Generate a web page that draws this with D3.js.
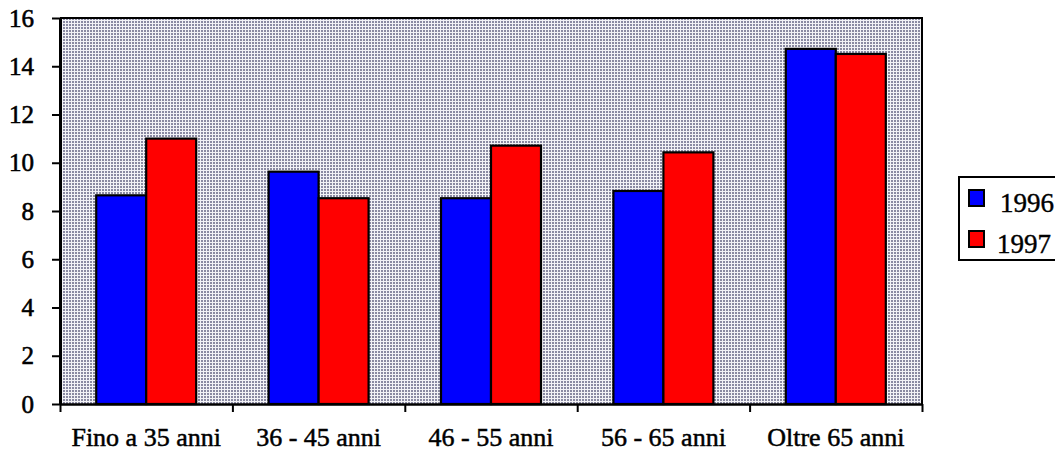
<!DOCTYPE html>
<html><head><meta charset="utf-8">
<script src="https://cdn.jsdelivr.net/npm/d3@7"></script>
<style>body{margin:0;background:#fff}svg{display:block}</style>
</head><body>
<svg id="c" width="1055" height="452"></svg>
<script>
const categories = ["Fino a 35 anni","36 - 45 anni","46 - 55 anni","56 - 65 anni","Oltre 65 anni"];
const series = ["1996","1997"];
const values1996 = [8.65, 9.63, 8.53, 8.83, 14.72];
const values1997 = [11.0, 8.53, 10.71, 10.43, 14.51];
const yTicks = [0,2,4,6,8,10,12,14,16];
const colors = ["#0000ff","#ff0000"];

const svg = d3.select("#c");
const L = 60, R = 922, T = 18, B = 404;
const font = "'Liberation Serif','Times New Roman',serif";

const defs = svg.append("defs");
const pat = defs.append("pattern").attr("id","stip").attr("width",3).attr("height",3).attr("patternUnits","userSpaceOnUse");
pat.append("rect").attr("width",3).attr("height",3).attr("fill","#f2f2f6");
pat.append("rect").attr("width",2).attr("height",2).attr("fill","#8a8aa2");

const x0 = d3.scaleBand().domain(categories).range([L,R]).paddingInner(0.42).paddingOuter(0.21);
const x1 = d3.scaleBand().domain(series).range([0,x0.bandwidth()]);
const y = d3.scaleLinear().domain([0,16]).range([B,T]);

svg.append("rect").attr("x",L).attr("y",T).attr("width",R-L).attr("height",B-T).attr("fill","url(#stip)");

const data = categories.map((c,i)=>({c, v:[values1996[i],values1997[i]]}));
const g = svg.append("g").selectAll("g").data(data).join("g").attr("transform",d=>`translate(${x0(d.c)},0)`);
g.selectAll("rect").data(d=>d.v.map((v,j)=>({s:series[j],v,j}))).join("rect")
  .attr("x",d=>x1(d.s)).attr("width",x1.bandwidth())
  .attr("y",d=>y(d.v)).attr("height",d=>B-y(d.v))
  .attr("fill",d=>colors[d.j]).attr("stroke","#000").attr("stroke-width",2.2);

svg.append("path").attr("d",`M${L},${T}H${R}V${B}`).attr("fill","none").attr("stroke","#000").attr("stroke-width",2);

const yAxis = svg.append("g").attr("transform",`translate(${L},0)`)
  .call(d3.axisLeft(y).tickValues(yTicks).tickSize(8).tickPadding(18).tickSizeOuter(0));
yAxis.select(".domain").attr("stroke-width",3);
yAxis.selectAll(".tick line").attr("stroke-width",2);
yAxis.selectAll("text").attr("font-family",font).attr("font-size",25).attr("fill","#000")
  .attr("stroke","#000").attr("stroke-width",0.6);

const xb = d3.scaleLinear().domain([0,categories.length]).range([L,R]);
const xAxis = svg.append("g").attr("transform",`translate(0,${B})`)
  .call(d3.axisBottom(xb).tickValues(d3.range(categories.length+1)).tickSize(8).tickFormat("").tickSizeOuter(0));
xAxis.select(".domain").attr("stroke-width",2.5);
xAxis.selectAll(".tick line").attr("stroke-width",2);

svg.append("g").selectAll("text").data(categories).join("text")
  .attr("x",d=>x0(d)+x0.bandwidth()/2).attr("y",446).attr("text-anchor","middle")
  .attr("font-family",font).attr("font-size",26).attr("stroke","#000").attr("stroke-width",0.5).text(d=>d);

const lg = svg.append("g");
lg.append("rect").attr("x",959).attr("y",177).attr("width",110).attr("height",83).attr("fill","#fff").attr("stroke","#000").attr("stroke-width",2);
series.forEach((s,i)=>{
  const yy = [190,231][i];
  lg.append("rect").attr("x",969).attr("y",yy).attr("width",15).attr("height",16).attr("fill",colors[i]).attr("stroke","#000").attr("stroke-width",2);
  lg.append("text").attr("x",[1000,997][i]).attr("y",yy+22).attr("font-family",font).attr("font-size",27)
    .attr("stroke","#000").attr("stroke-width",0.4).text(s);
});
</script>
</body></html>
